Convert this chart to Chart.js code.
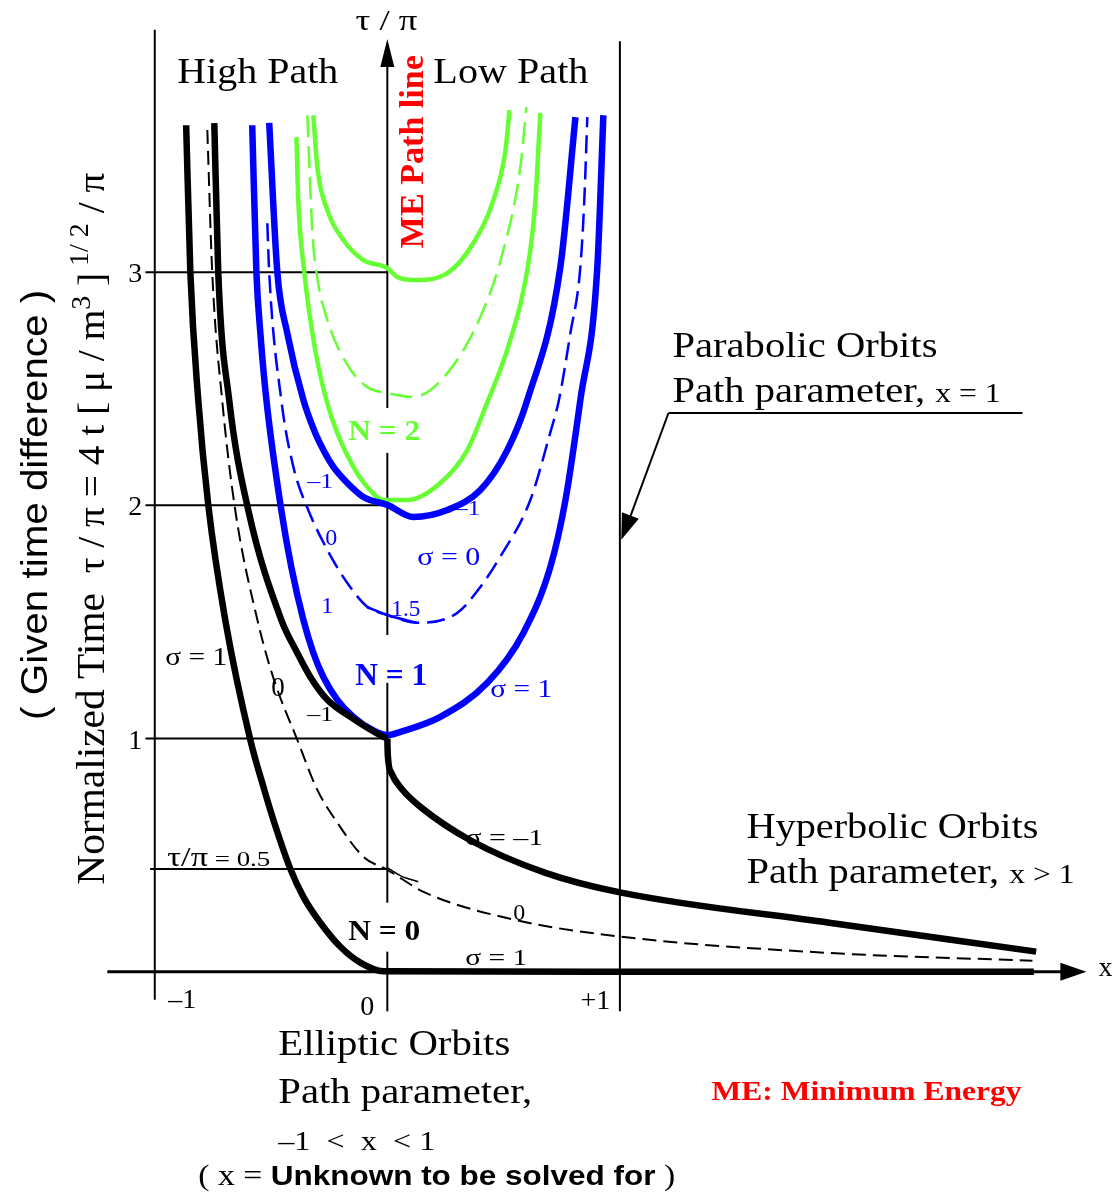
<!DOCTYPE html>
<html>
<head>
<meta charset="utf-8">
<title>Lambert problem - normalized time of flight</title>
<script src="https://cdn.jsdelivr.net/npm/chart.js@4.4.0/dist/chart.umd.min.js"></script>
<style>
    html, body { margin: 0; padding: 0; background: #fff; }
    #wrap { width: 1120px; height: 1196px; position: relative; }
    .probe { position: absolute; left: -9999px; top: 0; }
</style>
</head>
<body>
<div id="wrap"><canvas id="chart"></canvas></div>
<span class="probe" style="font-family: 'Liberation Serif'">a</span>
<span class="probe" style="font-family: 'Liberation Serif'; font-weight: bold">a</span>
<span class="probe" style="font-family: 'Liberation Sans'">a</span>
<span class="probe" style="font-family: 'Liberation Sans'; font-weight: bold">a</span>
<script>
// Ticks
const xTicks = [-1, 0, 1];
const xTickLabels = ['\u20131', '0', '+1'];
const yTicks = [1, 2, 3];
const yTickLabels = ['1', '2', '3'];
const halfLineTau = 0.44;   // line labelled tau/pi = 0.5 (as drawn)

// N = 0 (black)
const n0Sig1X = [-0.865, -0.847, -0.813, -0.770, -0.697, -0.589, -0.529, -0.486, -0.417, -0.361, -0.288, -0.202, -0.116, -0.017, 1.0, 2.78];
const n0Sig1Y = [3.63, 3.00, 2.452, 2.002, 1.509, 0.994, 0.780, 0.639, 0.441, 0.321, 0.210, 0.107, 0.039, 0.002, 0, 0];
const n0SigM1X = [0, 0.002, 0.017, 0.065, 0.142, 0.353, 0.680, 1.006, 1.90, 2.79];
const n0SigM1Y = [1.00, 0.93, 0.853, 0.78, 0.707, 0.566, 0.424, 0.339, 0.21, 0.086];
const n0Sig0X = [-0.774, -0.753, -0.710, -0.654, -0.559, -0.490, -0.387, -0.301, -0.215, -0.103, 0, 0.163, 0.546, 1.006, 1.888, 2.774];
const n0Sig0Y = [3.61, 3.00, 2.45, 1.98, 1.51, 1.26, 0.994, 0.78, 0.639, 0.493, 0.437, 0.339, 0.223, 0.150, 0.081, 0.047];
const n0ArcX = [0, 0.06, 0.133];
const n0ArcY = [0.446, 0.41, 0.386];

// N = 1 high path, sigma = -1 (black)
const n1BlackX = [-0.744, -0.727, -0.680, -0.598, -0.456, -0.387, -0.331, -0.258, -0.159, -0.017, 0];
const n1BlackY = [3.639, 3.00, 2.452, 1.98, 1.509, 1.367, 1.264, 1.166, 1.093, 1.007, 1.0];

// N = 1 (blue)
const n1Sig1X = [-0.581, -0.563, -0.546, -0.520, -0.456, -0.413, -0.361, -0.318, -0.275, -0.215, -0.146, -0.060, 0, 0.060, 0.228, 0.430, 0.585, 0.701, 0.766, 0.830, 0.903, 0.929];
const n1Sig1Y = [3.63, 3.00, 2.739, 2.452, 1.98, 1.736, 1.509, 1.367, 1.264, 1.166, 1.093, 1.035, 1.015, 1.030, 1.093, 1.239, 1.453, 1.736, 2.023, 2.452, 3.022, 3.673];
const n1SigM1X = [-0.508, -0.473, -0.430, -0.361, -0.310, -0.275, -0.232, -0.172, -0.103, 0, 0.112, 0.258, 0.400, 0.516, 0.602, 0.744, 0.809];
const n1SigM1Y = [3.64, 3.00, 2.738, 2.452, 2.31, 2.237, 2.165, 2.096, 2.036, 2.002, 1.950, 1.980, 2.066, 2.237, 2.452, 3.022, 3.665];
const n1Sig0X = [-0.516, -0.508, -0.456, -0.404, -0.340, -0.258, -0.172, -0.086, 0, 0.129, 0.301, 0.400, 0.477, 0.615, 0.700, 0.738, 0.787, 0.830, 0.847, 0.860];
const n1Sig0Y = [3.21, 3.00, 2.452, 2.165, 1.98, 1.809, 1.667, 1.565, 1.530, 1.496, 1.539, 1.650, 1.766, 2.023, 2.310, 2.452, 2.738, 3.022, 3.309, 3.665];
const n1ArcX = [-0.09, 0, 0.129];
const n1ArcY = [1.565, 1.530, 1.496];

// N = 2 (green)
const n2Sig1X = [-0.391, -0.383, -0.357, -0.310, -0.262, -0.215, -0.146, -0.086, -0.017, 0.086, 0.228, 0.344, 0.434, 0.490, 0.538, 0.576, 0.615, 0.637, 0.649, 0.658];
const n2Sig1Y = [3.579, 3.309, 3.00, 2.666, 2.452, 2.310, 2.165, 2.079, 2.023, 2.023, 2.096, 2.237, 2.452, 2.593, 2.739, 2.880, 3.095, 3.309, 3.523, 3.682];
const n2Sig0X = [-0.344, -0.335, -0.323, -0.305, -0.262, -0.176, -0.086, 0, 0.112, 0.258, 0.400, 0.499, 0.572, 0.598];
const n2Sig0Y = [3.673, 3.45, 3.18, 3.0, 2.808, 2.61, 2.507, 2.482, 2.465, 2.567, 2.808, 3.095, 3.450, 3.708];
const n2SigM1X = [-0.318, -0.301, -0.258, -0.189, -0.103, 0, 0.043, 0.112, 0.258, 0.370, 0.456, 0.508, 0.525];
const n2SigM1Y = [3.673, 3.45, 3.266, 3.138, 3.052, 3.018, 2.979, 2.966, 2.996, 3.125, 3.309, 3.523, 3.695];

// Styles
const BLACK = '#000000';
const BLUE = '#0000ff';
const GREEN = '#66ff33';
const RED = '#ff0000';
const SERIF = '"Liberation Serif", serif';
const SANS = '"Liberation Sans", sans-serif';
const serif = (size, bold) => (bold ? 'bold ' : '') + size + 'px ' + SERIF;

function curve(xs, ys, color, width, dash) {
    return {
        data: xs.map((x, i) => ({ x: x, y: ys[i] })),
        showLine: true,
        borderColor: color,
        borderWidth: width,
        borderDash: dash || [],
        pointRadius: 0,
        cubicInterpolationMode: 'monotone',
        fill: false
    };
}

// Text labels: at = [x, tau] of the baseline start (or centre), w = target width in px
const labels = [
    { at: [-0.004, 4.040], parts: [['\u03c4 / \u03c0', serif(30)]], align: 'center', w: 62 },
    { at: [-0.903, 3.810], parts: [['High Path', serif(36)]], w: 161 },
    { at: [0.198, 3.810], parts: [['Low Path', serif(36)]], w: 155 },
    { at: [0.155, 3.103], parts: [['ME Path line', serif(34, true)]], color: RED, rot: true, w: 193 },
    { at: [-0.013, 2.280], parts: [['N = 2', serif(30, true)]], color: GREEN, align: 'center', w: 72 },
    { at: [-0.344, 2.075], parts: [['\u20131', serif(22)]], color: BLUE, w: 26 },
    { at: [-0.267, 1.830], parts: [['0', serif(24)]], color: BLUE },
    { at: [-0.284, 1.539], parts: [['1', serif(24)]], color: BLUE },
    { at: [0.017, 1.526], parts: [['1.5', serif(24)]], color: BLUE, w: 29 },
    { at: [0.292, 1.959], parts: [['\u20131', serif(22)]], color: BLUE, w: 25 },
    { at: [0.129, 1.745], parts: [['\u03c3 = 0', serif(26)]], color: BLUE, w: 63 },
    { at: [0.017, 1.230], parts: [['N = 1', serif(32, true)]], color: BLUE, align: 'center', w: 72 },
    { at: [0.443, 1.179], parts: [['\u03c3 = 1', serif(26)]], color: BLUE, w: 62 },
    { at: [-0.955, 1.316], parts: [['\u03c3 = 1', serif(26)]], w: 62 },
    { at: [-0.499, 1.183], parts: [['0', serif(27)]] },
    { at: [-0.344, 1.076], parts: [['\u20131', serif(22)]], w: 26 },
    { at: [-0.946, 0.454], parts: [['\u03c4/\u03c0', serif(28)], [' = 0.5', serif(22)]], w: 103 },
    { at: [-0.013, 0.137], parts: [['N = 0', serif(30, true)]], align: 'center', w: 72 },
    { at: [0.335, 0.544], parts: [['\u03c3 = \u20131', serif(24)]], w: 78 },
    { at: [0.542, 0.223], parts: [['0', serif(24)]] },
    { at: [0.335, 0.030], parts: [['\u03c3 = 1', serif(24)]], w: 62 },
    { at: [1.544, 0.574], parts: [['Hyperbolic Orbits', serif(36)]], w: 292 },
    { at: [1.544, 0.381], parts: [['Path parameter, ', serif(36)], ['x > 1', serif(28)]], w: 328 },
    { at: [1.226, 2.636], parts: [['Parabolic Orbits', serif(36)]], w: 265 },
    { at: [1.226, 2.443], parts: [['Path parameter, ', serif(36)], ['x = 1', serif(28)]], w: 328 },
    { at: [-0.469, -0.356], parts: [['Elliptic Orbits', serif(36)]], w: 232 },
    { at: [-0.469, -0.561], parts: [['Path parameter,', serif(36)]], w: 254 },
    { at: [-0.469, -0.763], parts: [['\u20131  <  x  < 1', serif(28)]], w: 157 },
    { at: [-0.813, -0.913], parts: [['( x = ', serif(30)], ['Unknown to be solved for', 'bold 28px ' + SANS], [' )', serif(30)]], w: 477 },
    { at: [1.394, -0.549], parts: [['ME: Minimum Energy', serif(28, true)]], color: RED, w: 310 },
    { at: [3.088, -0.017], parts: [['x', serif(28)]], align: 'center' },
    { at: [-1.462, 1.080], parts: [['( Given time difference )', '36px ' + SANS]], rot: true, w: 430 },
    { at: [-1.217, 0.373], parts: [
        ['Normalized Time', serif(40)],
        ['  \u03c4 / \u03c0 = 4 t [ \u03bc / m', serif(38)],
        ['3', serif(27), 14],
        [' ]', serif(38)],
        [' 1/ 2', serif(27), 16],
        [' / \u03c0', serif(38)]
    ], rot: true, w: 712 }
];

function drawLabel(ctx, X, Y, lab) {
    ctx.save();
    ctx.translate(X(lab.at[0]), Y(lab.at[1]));
    if (lab.rot) ctx.rotate(-Math.PI / 2);
    let total = 0;
    lab.parts.forEach(p => { ctx.font = p[1]; total += ctx.measureText(p[0]).width; });
    const s = lab.w ? lab.w / total : 1;
    let cx = lab.align === 'center' ? -total * s / 2 : 0;
    ctx.fillStyle = lab.color || BLACK;
    ctx.textAlign = 'left';
    ctx.textBaseline = 'alphabetic';
    lab.parts.forEach(p => {
        ctx.font = p[1];
        const wd = ctx.measureText(p[0]).width;
        ctx.save();
        ctx.translate(cx, -(p[2] || 0));
        ctx.scale(s, 1);
        ctx.fillText(p[0], 0, 0);
        ctx.restore();
        cx += wd * s;
    });
    ctx.restore();
}

function seg(ctx, x1, y1, x2, y2) {
    ctx.beginPath();
    ctx.moveTo(x1, y1);
    ctx.lineTo(x2, y2);
    ctx.stroke();
}

function arrowHead(ctx, tipX, tipY, fromX, fromY, len, half) {
    const dx = tipX - fromX, dy = tipY - fromY;
    const d = Math.hypot(dx, dy);
    const ux = dx / d, uy = dy / d;
    const bx = tipX - ux * len, by = tipY - uy * len;
    ctx.beginPath();
    ctx.moveTo(tipX, tipY);
    ctx.lineTo(bx - uy * half, by + ux * half);
    ctx.lineTo(bx + uy * half, by - ux * half);
    ctx.closePath();
    ctx.fill();
}

// Frame lines, axes, arrows
const guides = {
    id: 'guides',
    beforeDatasetsDraw(chart) {
        const ctx = chart.ctx;
        const X = v => chart.scales.x.getPixelForValue(v);
        const Y = v => chart.scales.y.getPixelForValue(v);
        ctx.save();
        ctx.strokeStyle = BLACK;
        ctx.fillStyle = BLACK;
        ctx.lineWidth = 2;

        // elliptic / parabolic boundaries
        seg(ctx, X(-1), Y(4.04), X(-1), Y(-0.12));
        seg(ctx, X(1), Y(3.99), X(1), Y(-0.17));

        // tau axis, broken around the N labels
        const gaps = [[2.225, 2.417], [1.239, 1.444], [0.086, 0.296]];
        let top = 3.89;
        gaps.forEach(g => { seg(ctx, X(0), Y(top), X(0), Y(g[1])); top = g[0]; });
        seg(ctx, X(0), Y(top), X(0), Y(-0.17));
        arrowHead(ctx, X(0), Y(4.0), X(0), Y(3.5), 28, 7);

        // tick lines
        yTicks.forEach(v => seg(ctx, X(-1.04), Y(v), X(0), Y(v)));
        seg(ctx, X(-1.02), Y(halfLineTau), X(0), Y(halfLineTau));

        // x axis
        ctx.lineWidth = 3;
        seg(ctx, X(-1.204), Y(0), X(2.90), Y(0));
        arrowHead(ctx, X(3.006), Y(0), X(2.5), Y(0), 26, 9);

        // parabolic callout
        ctx.lineWidth = 2;
        seg(ctx, X(1.209), Y(2.396), X(2.731), Y(2.396));
        seg(ctx, X(1.209), Y(2.396), X(1.028), Y(1.907));
        arrowHead(ctx, X(1.006), Y(1.852), X(1.209), Y(2.396), 26, 9);
        ctx.restore();
    },
    afterDraw(chart) {
        const ctx = chart.ctx;
        const X = v => chart.scales.x.getPixelForValue(v);
        const Y = v => chart.scales.y.getPixelForValue(v);
        ctx.save();
        ctx.font = serif(28);
        ctx.fillStyle = BLACK;
        ctx.textAlign = 'center';
        ctx.textBaseline = 'alphabetic';
        yTicks.forEach((v, i) => ctx.fillText(yTickLabels[i], X(-1.084), Y(v) + 10));
        const xNudge = [0.118, -0.086, -0.105];
        const xBase = [-0.154, -0.184, -0.159];
        xTicks.forEach((v, i) => ctx.fillText(xTickLabels[i], X(v + xNudge[i]), Y(xBase[i])));
        ctx.restore();
        labels.forEach(lab => drawLabel(ctx, X, Y, lab));
    }
};

const datasets = [
    curve(n0Sig1X, n0Sig1Y, BLACK, 6.5),
    curve(n0SigM1X, n0SigM1Y, BLACK, 6.5),
    curve(n1BlackX, n1BlackY, BLACK, 6.5),
    curve(n0Sig0X, n0Sig0Y, BLACK, 2, [14, 7]),
    curve(n0ArcX, n0ArcY, BLACK, 1.5),
    curve(n1Sig1X, n1Sig1Y, BLUE, 6.5),
    curve(n1SigM1X, n1SigM1Y, BLUE, 6.5),
    curve(n1Sig0X, n1Sig0Y, BLUE, 2.5, [18, 8]),
    curve(n1ArcX, n1ArcY, BLUE, 2.5),
    curve(n2Sig1X, n2Sig1Y, GREEN, 4.5),
    curve(n2SigM1X, n2SigM1Y, GREEN, 4.5),
    curve(n2Sig0X, n2Sig0Y, GREEN, 2.5, [22, 9])
];

function drawChart() {
    new Chart(document.getElementById('chart'), {
        type: 'scatter',
        data: { datasets: datasets },
        options: {
            responsive: true,
            maintainAspectRatio: false,
            animation: false,
            events: [],
            layout: { padding: { left: 85, right: 35, top: 39, bottom: 166 } },
            plugins: { legend: { display: false }, tooltip: { enabled: false } },
            scales: {
                x: { type: 'linear', min: -1.3, max: 3.0, display: false },
                y: { type: 'linear', min: -0.25, max: 4.0, display: false }
            }
        },
        plugins: [guides]
    });
}

// make sure the system fonts are ready before the canvas text is drawn
Promise.all([serif(30), serif(30, true), '30px ' + SANS, 'bold 30px ' + SANS]
    .map(f => document.fonts.load(f, 'Aa\u03c4\u03c0\u03c3')))
    .then(drawChart, drawChart);
</script>
</body>
</html>
